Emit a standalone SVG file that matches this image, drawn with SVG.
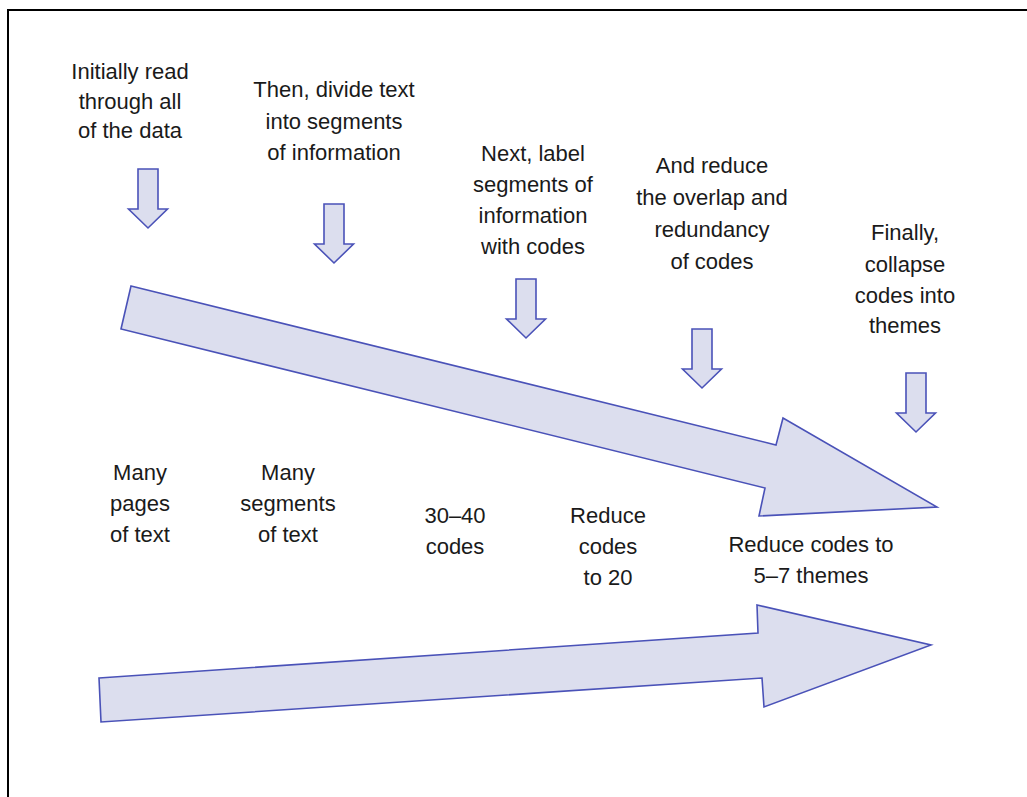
<svg xmlns="http://www.w3.org/2000/svg" width="1027" height="797" viewBox="0 0 1027 797">
  <style>
    .arrow { fill: #dcdeee; stroke: #4a52b8; stroke-width: 1.6; stroke-linejoin: miter; }
    .label { font-family: "Liberation Sans", Arial, sans-serif; font-size: 22px; fill: #1a1a1a; text-anchor: middle; }
  </style>
  <defs>
    <!-- small downward arrow, origin at top centre of the shaft -->
    <polygon id="down" points="-10,0 10,0 10,40 19.5,40 0,59 -19.5,40 -10,40" />
  </defs>

  <rect x="0" y="0" width="1027" height="797" fill="#ffffff" />
  <!-- frame (right and bottom edges fall outside the canvas) -->
  <rect x="8" y="10" width="1040" height="820" fill="none" stroke="#000000" stroke-width="2" />

  <!-- large process arrows -->
  <g id="connectors">
    <polygon id="arrow-steps" class="arrow" points="131,286 776,445 783,418 937,507 759,516 765,488 121,329" />
    <polygon id="arrow-volume" class="arrow" points="99,678 758,633 757,605 931,645 764,707 762,678 101,722" />
    <use href="#down" class="arrow" x="148" y="169" />
    <use href="#down" class="arrow" x="334" y="204" />
    <use href="#down" class="arrow" x="526" y="279" />
    <use href="#down" class="arrow" x="702" y="329" />
    <use href="#down" class="arrow" x="916" y="373" />
  </g>

  <!-- steps -->
  <g id="step-read">
    <text class="label" x="130" y="79">Initially read</text>
    <text class="label" x="130" y="109">through all</text>
    <text class="label" x="130" y="138">of the data</text>
  </g>
  <g id="step-divide">
    <text class="label" x="334" y="97">Then, divide text</text>
    <text class="label" x="334" y="129">into segments</text>
    <text class="label" x="334" y="160">of information</text>
  </g>
  <g id="step-label">
    <text class="label" x="533" y="161">Next, label</text>
    <text class="label" x="533" y="192">segments of</text>
    <text class="label" x="533" y="223">information</text>
    <text class="label" x="533" y="254">with codes</text>
  </g>
  <g id="step-reduce">
    <text class="label" x="712" y="173">And reduce</text>
    <text class="label" x="712" y="205">the overlap and</text>
    <text class="label" x="712" y="237">redundancy</text>
    <text class="label" x="712" y="269">of codes</text>
  </g>
  <g id="step-collapse">
    <text class="label" x="905" y="240">Finally,</text>
    <text class="label" x="905" y="272">collapse</text>
    <text class="label" x="905" y="303">codes into</text>
    <text class="label" x="905" y="333">themes</text>
  </g>

  <!-- quantities -->
  <g id="qty-pages">
    <text class="label" x="140" y="480">Many</text>
    <text class="label" x="140" y="511">pages</text>
    <text class="label" x="140" y="542">of text</text>
  </g>
  <g id="qty-segments">
    <text class="label" x="288" y="480">Many</text>
    <text class="label" x="288" y="511">segments</text>
    <text class="label" x="288" y="542">of text</text>
  </g>
  <g id="qty-codes">
    <text class="label" x="455" y="523">30–40</text>
    <text class="label" x="455" y="554">codes</text>
  </g>
  <g id="qty-twenty">
    <text class="label" x="608" y="523">Reduce</text>
    <text class="label" x="608" y="554">codes</text>
    <text class="label" x="608" y="585">to 20</text>
  </g>
  <g id="qty-themes">
    <text class="label" x="811" y="552">Reduce codes to</text>
    <text class="label" x="811" y="583">5–7 themes</text>
  </g>
</svg>
